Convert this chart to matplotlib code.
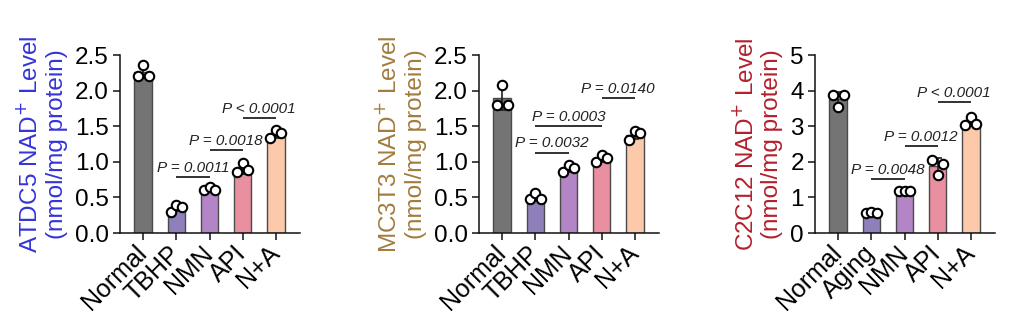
import matplotlib
matplotlib.use("Agg")
import matplotlib.pyplot as plt
import numpy as np

plt.rcParams['font.family'] = ['Liberation Sans', 'DejaVu Sans']

# ---------------- data ----------------
groups_a = ["Normal", "TBHP", "NMN", "API", "N+A"]
groups_c = ["Normal", "Aging", "NMN", "API", "N+A"]

atdc5_points = [[2.21, 2.36, 2.21],
                [0.30, 0.39, 0.37],
                [0.61, 0.65, 0.61],
                [0.85, 0.98, 0.88],
                [1.33, 1.44, 1.40]]
mc3t3_points = [[1.80, 2.08, 1.80],
                [0.48, 0.56, 0.48],
                [0.85, 0.96, 0.91],
                [1.00, 1.10, 1.05],
                [1.31, 1.43, 1.40]]
c2c12_points = [[3.87, 3.55, 3.87],
                [0.56, 0.59, 0.56],
                [1.18, 1.19, 1.18],
                [2.05, 1.62, 1.95],
                [3.03, 3.25, 3.06]]

# significance: (group i, group j, line height, label)
atdc5_sig = [(1, 2, 0.79, "P = 0.0011"),
             (2, 3, 1.16, "P = 0.0018"),
             (3, 4, 1.62, "P < 0.0001")]
mc3t3_sig = [(1, 2, 1.13, "P = 0.0032"),
             (1, 3, 1.50, "P = 0.0003"),
             (3, 4, 1.89, "P = 0.0140")]
c2c12_sig = [(1, 2, 1.51, "P = 0.0048"),
             (2, 3, 2.44, "P = 0.0012"),
             (3, 4, 3.69, "P < 0.0001")]

atdc5_label = "ATDC5 NAD$^{+}$ Level\n(nmol/mg protein)"
mc3t3_label = "MC3T3 NAD$^{+}$ Level\n(nmol/mg protein)"
c2c12_label = "C2C12 NAD$^{+}$ Level\n(nmol/mg protein)"

atdc5_ticks = [0.0, 0.5, 1.0, 1.5, 2.0, 2.5]
mc3t3_ticks = [0.0, 0.5, 1.0, 1.5, 2.0, 2.5]
c2c12_ticks = [0, 1, 2, 3, 4, 5]

# ---------------- style ----------------
bar_colors = ["#747474", "#8f80bb", "#b384c6", "#e8909f", "#fcc9aa"]
label_colors = ["#3434d8", "#a27c3e", "#b3202c"]
point_offsets = [-0.16, 0.0, 0.16]

fig = plt.figure(figsize=(10.24, 3.33), dpi=100)
W, H = 1024, 333
ax_lefts = [120, 479, 815]
ax_width = 180
ax_top, ax_bottom = 55, 233


def draw(ax, groups, points, sig, ylabel, lcolor, ticks, tickfmt):
    x = np.arange(len(groups))
    means = [np.mean(p) for p in points]
    sds = [np.std(p, ddof=1) for p in points]
    ax.bar(x, means, width=0.53, color=bar_colors, edgecolor="#4a4a4a",
           linewidth=1.0, zorder=2)
    ax.errorbar(x, means, yerr=sds, fmt="none", ecolor="#222222",
                elinewidth=1.2, capsize=3, capthick=1.2, zorder=3)
    for xi, pts in zip(x, points):
        ax.plot(xi + np.array(point_offsets), pts, "o", ms=6.8,
                mfc="white", mec="black", mew=1.5, zorder=4, clip_on=False)
    for i, j, yv, txt in sig:
        ax.plot([i, j], [yv, yv], color="#222222", lw=1.3, zorder=5,
                solid_capstyle="butt")
        ax.annotate(txt, xy=((i + j) / 2, yv), xytext=(0, 1.5),
                    textcoords="offset points", ha="center", va="bottom",
                    fontsize=11, style="italic", color="#222222")
    ax.set_xlim(-0.7, 4.73)
    ax.set_ylim(ticks[0], ticks[-1])
    ax.set_yticks(ticks)
    ax.set_yticklabels([tickfmt.format(t) for t in ticks])
    ax.set_xticks(x)
    ax.set_xticklabels(groups, rotation=45, ha="right",
                       rotation_mode="anchor", va="center")
    for s in ["top", "right"]:
        ax.spines[s].set_visible(False)
    for s in ["left", "bottom"]:
        ax.spines[s].set_linewidth(1.1)
        ax.spines[s].set_color("#111111")
    ax.tick_params(axis="both", length=5, width=1.1, color="#111111",
                   labelsize=17.5, pad=3)
    ax.tick_params(axis="x", labelsize=18, pad=7)
    ax.set_ylabel(ylabel, color=lcolor, fontsize=17.5, linespacing=1.22,
                  labelpad=5)


panels = [
    (groups_a, atdc5_points, atdc5_sig, atdc5_label, atdc5_ticks, "{:.1f}"),
    (groups_a, mc3t3_points, mc3t3_sig, mc3t3_label, mc3t3_ticks, "{:.1f}"),
    (groups_c, c2c12_points, c2c12_sig, c2c12_label, c2c12_ticks, "{:.0f}"),
]
for k, (g, p, s, lab, t, f) in enumerate(panels):
    ax = fig.add_axes([ax_lefts[k] / W, 1 - ax_bottom / H,
                       ax_width / W, (ax_bottom - ax_top) / H])
    draw(ax, g, p, s, lab, label_colors[k], t, f)

fig.savefig("out.png", dpi=100)
